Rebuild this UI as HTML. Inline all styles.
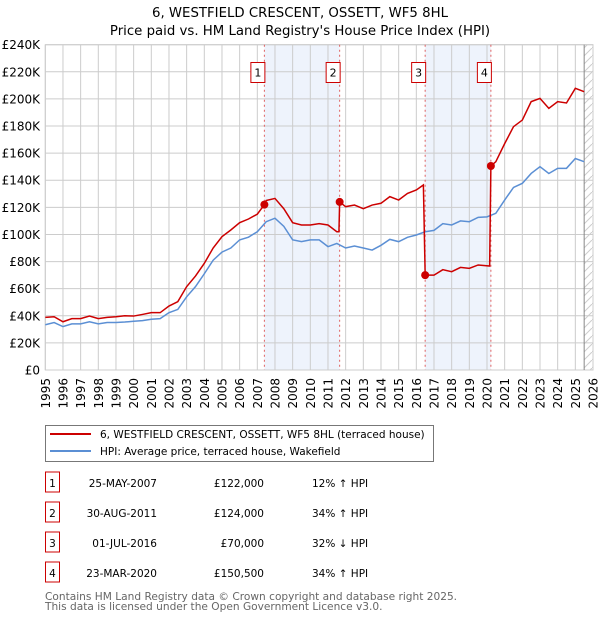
<!DOCTYPE html>
<html><head><meta charset="utf-8">
<style>
body{margin:0;background:#fff;font-family:"DejaVu Sans","Liberation Sans",sans-serif;}
#wrap{position:relative;width:600px;height:620px;overflow:hidden;}
svg text{font-family:"DejaVu Sans","Liberation Sans",sans-serif;}
</style></head>
<body>
<div id="wrap">
<svg id="chart" width="600" height="620"></svg>
</div>
<script>
const yearTicks=[1995,1996,1997,1998,1999,2000,2001,2002,2003,2004,2005,2006,2007,2008,2009,2010,2011,2012,2013,2014,2015,2016,2017,2018,2019,2020,2021,2022,2023,2024,2025,2026];
const valueTicks=[0,20,40,60,80,100,120,140,160,180,200,220,240];
const valueTickLabels=["£0","£20K","£40K","£60K","£80K","£100K","£120K","£140K","£160K","£180K","£200K","£220K","£240K"];
const hpiYears=[1995,1995.5,1996,1996.5,1997,1997.5,1998,1998.5,1999,1999.5,2000,2000.5,2001,2001.5,2002,2002.5,2003,2003.5,2004,2004.5,2005,2005.5,2006,2006.5,2007,2007.5,2008,2008.5,2009,2009.5,2010,2010.5,2011,2011.5,2012,2012.5,2013,2013.5,2014,2014.5,2015,2015.5,2016,2016.5,2017,2017.5,2018,2018.5,2019,2019.5,2020,2020.5,2021,2021.5,2022,2022.5,2023,2023.5,2024,2024.5,2025,2025.5];
const hpiValues=[33.4,35,32,34,34,35.6,34,35,35,35.4,36,36.4,37.4,37.9,42.3,44.7,54,61.5,71,81,87,90,96,98,102,109.4,112,106,96,94.7,96,96,91,93.4,90,91.5,90,88.5,92,96.4,94.7,97.9,99.6,102,103,108,107,110,109.4,112.6,113,115.6,125.4,134.7,137.7,145,150,145,148.8,148.8,156,153.7];
const priceYears=[1995,1995.5,1996,1996.5,1997,1997.5,1998,1998.5,1999,1999.5,2000,2000.5,2001,2001.5,2002,2002.5,2003,2003.5,2004,2004.5,2005,2005.5,2006,2006.5,2007,2007.4,2007.5,2008,2008.5,2009,2009.5,2010,2010.5,2011,2011.5,2011.62,2011.66,2012,2012.5,2013,2013.5,2014,2014.5,2015,2015.5,2016,2016.4,2016.5,2017,2017.5,2018,2018.5,2019,2019.5,2020.15,2020.22,2020.5,2021,2021.5,2022,2022.5,2023,2023.5,2024,2024.5,2025,2025.5];
const priceValues=[38.8,39.3,35.6,37.9,37.9,39.8,37.9,38.8,39.3,40,39.8,41,42.3,42.3,47.2,50.4,61.5,69.3,78.7,90,98.4,103.3,108.7,111.4,115,122,125,126.6,119,108.7,107,107,108,107,102,102,124,120.5,121.7,119,121.7,123,127.9,125.4,130.3,132.8,136.5,70,70,74,72.5,75.7,75,77.5,76.7,150.5,153.7,167,179.5,184.4,198,200.4,193,198,197,207.8,205.3];
const saleLabels=["1","2","3","4"];
const saleYears=[2007.4,2011.66,2016.5,2020.22];
const saleValues=[122,124,70,150.5];

const NS="http://www.w3.org/2000/svg";
const svg=document.getElementById('chart');
const X0=45.3,X1=593,Y0=370,Y1=44.7;
const xs=y=>X0+(y-1995)*(X1-X0)/31;
const ys=v=>Y0-v*(Y0-Y1)/240;
function mk(t,a,p){const e=document.createElementNS(NS,t);for(const k in a)e.setAttribute(k,a[k]);(p||svg).appendChild(e);return e;}

for(let i=0;i<2;i++){
 const r=mk('rect',{x:xs(saleYears[i*2]),y:Y1,width:xs(saleYears[i*2+1])-xs(saleYears[i*2]),height:Y0-Y1,fill:'#eef3fc'});
 
 
}
const defs=mk('defs',{});
const pat=mk('pattern',{id:'hatch',width:8,height:8,patternUnits:'userSpaceOnUse'},defs);
mk('path',{d:'M0,8 L8,0',stroke:'#ccc','stroke-width':1},pat);
const hz=mk('rect',{x:xs(2025.5),y:Y1,width:X1-xs(2025.5),height:Y0-Y1,fill:'url(#hatch)'});



yearTicks.forEach(y=>{
 const l=mk('line',{x1:xs(y),x2:xs(y),y1:Y1,y2:Y0,stroke:'#ccc','stroke-width':1});
 
 
 const t=mk('text',{x:0,y:0,'font-size':12,fill:'#000','text-anchor':'end',transform:`translate(${xs(y)+4.5},378) rotate(-90)`});
 t.textContent=y;
 
 
});
valueTicks.forEach((v,i)=>{
 const l=mk('line',{x1:X0,x2:X1,y1:ys(v),y2:ys(v),stroke:'#ccc','stroke-width':1});
 
 
 const t=mk('text',{x:40,y:ys(v)+4.5,'font-size':12,fill:'#000','text-anchor':'end'});
 t.textContent=valueTickLabels[i];
 
 
});
const bd=mk('rect',{x:X0,y:Y1,width:X1-X0,height:Y0-Y1,fill:'none',stroke:'#ccc'});


const nowl=mk('line',{x1:xs(2025.5),x2:xs(2025.5),y1:Y1,y2:Y0,stroke:'#888','stroke-width':1});



saleYears.forEach((y,i)=>{
 const l=mk('line',{x1:xs(y),x2:xs(y),y1:Y1,y2:Y0,stroke:'#e06060','stroke-width':1,'stroke-dasharray':'2,3'});
 
 
 const b=mk('rect',{x:xs(y)-13.5,y:62.5,width:14,height:20,fill:'#fff',stroke:'#cc0000','stroke-width':1});
 
 
 const t=mk('text',{x:xs(y)-6.5,y:76.5,'font-size':11,'text-anchor':'middle'});
 t.textContent=saleLabels[i];
 
 
});

const hp=mk('polyline',{points:hpiYears.map((y,i)=>xs(y)+','+ys(hpiValues[i])).join(' '),fill:'none',stroke:'#5b8fd4','stroke-width':1.5});


const pp=mk('polyline',{points:priceYears.map((y,i)=>xs(y)+','+ys(priceValues[i])).join(' '),fill:'none',stroke:'#cc0000','stroke-width':1.5});


saleYears.forEach((y,i)=>{
 const c=mk('circle',{cx:xs(y),cy:ys(saleValues[i]),r:4,fill:'#cc0000'});
 
 
});

[["6, WESTFIELD CRESCENT, OSSETT, WF5 8HL",17,'chart-title'],["Price paid vs. HM Land Registry's House Price Index (HPI)",35,'chart-subtitle']].forEach(a=>{
 const t=mk('text',{x:300,y:a[1],'font-size':13.3,'text-anchor':'middle'});
 t.textContent=a[0];
 
 
});

const lg=mk('g',{});


mk('rect',{x:45.5,y:425.5,width:388,height:36,fill:'#fff',stroke:'#777'},lg);
mk('line',{x1:50,x2:91,y1:434,y2:434,stroke:'#cc0000','stroke-width':2},lg);
mk('line',{x1:50,x2:91,y1:451,y2:451,stroke:'#5b8fd4','stroke-width':2},lg);
const l1=mk('text',{x:100,y:438,'font-size':10.5},lg);l1.textContent="6, WESTFIELD CRESCENT, OSSETT, WF5 8HL (terraced house)";


const l2=mk('text',{x:100,y:455,'font-size':10.5},lg);l2.textContent="HPI: Average price, terraced house, Wakefield";



const dates=["25-MAY-2007","30-AUG-2011","01-JUL-2016","23-MAR-2020"];
const prices=["£122,000","£124,000","£70,000","£150,500"];
const diffs=["12% ↑ HPI","34% ↑ HPI","32% ↓ HPI","34% ↑ HPI"];
const rowY=[483,513,543,573];
rowY.forEach((yy,i)=>{
 const g=mk('g',{});
 
 
 mk('rect',{x:45.5,y:yy-11,width:14,height:20,fill:'#fff',stroke:'#cc0000'},g);
 const a=mk('text',{x:52.5,y:yy+4,'font-size':10.5,'text-anchor':'middle'},g);a.textContent=saleLabels[i];
 const b=mk('text',{x:157,y:yy+4,'font-size':10.5,'text-anchor':'end'},g);b.textContent=dates[i];
 const c=mk('text',{x:264,y:yy+4,'font-size':10.5,'text-anchor':'end'},g);c.textContent=prices[i];
 const d=mk('text',{x:312,y:yy+4,'font-size':10.5},g);d.textContent=diffs[i];
});
const f1=mk('text',{x:45,y:600,'font-size':10.6,fill:'#666'});f1.textContent="Contains HM Land Registry data © Crown copyright and database right 2025.";


const f2=mk('text',{x:45,y:610,'font-size':10.6,fill:'#666'});f2.textContent="This data is licensed under the Open Government Licence v3.0.";


</script>
</body></html>
